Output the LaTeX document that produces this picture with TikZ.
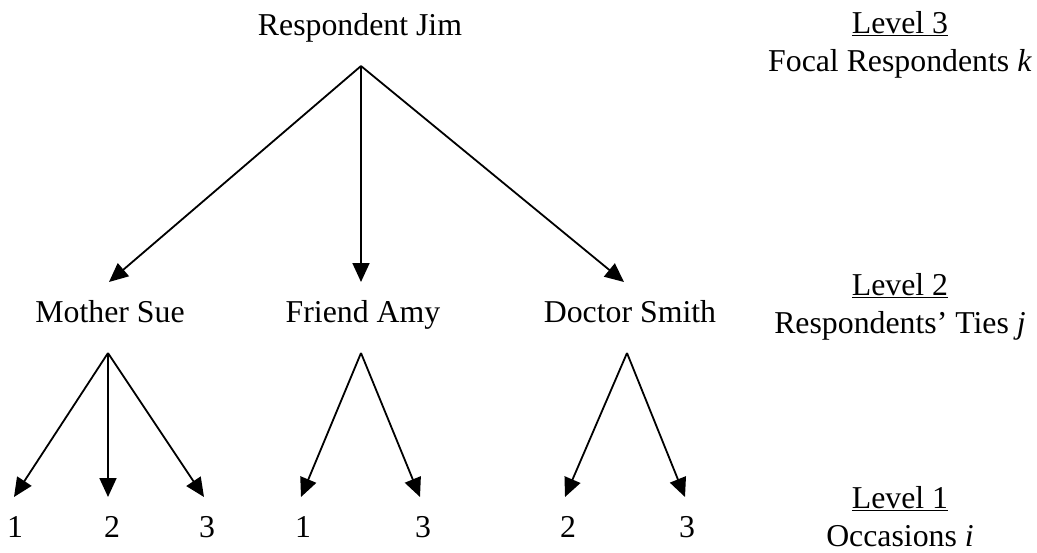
\documentclass[tikz,border=0pt]{standalone}
\usepackage{fontspec}
\setmainfont{Liberation Serif}
\usetikzlibrary{arrows.meta}
\begin{document}
\begin{tikzpicture}[x=1pt,y=-1pt,
  lbl/.style={inner sep=0pt,anchor=base,font=\fontsize{31.8}{38}\selectfont},
  conn/.style={line width=1.8pt,-{Triangle[length=19pt,width=17pt]}}]
\useasboundingbox (0,0) rectangle (1037,552);
% labels
\node[lbl] (jim) at (360,35) {Respondent Jim};
\node[lbl] (sue) at (110,322) {Mother Sue};
\node[lbl] (amy) at (363,322) {Friend Amy};
\node[lbl] (smith) at (630,322) {Doctor Smith};
\node[lbl] (s1) at (15,537) {1};
\node[lbl] (s2) at (112,537) {2};
\node[lbl] (s3) at (207,537) {3};
\node[lbl] (a1) at (303,537) {1};
\node[lbl] (a3) at (423,537) {3};
\node[lbl] (d2) at (568,537) {2};
\node[lbl] (d3) at (687,537) {3};
\node[lbl] (l3) at (900,33) {\underline{Level 3}};
\node[lbl] (l3b) at (900,71) {Focal Respondents \textit{k}};
\node[lbl] (l2) at (900,295) {\underline{Level 2}};
\node[lbl] (l2b) at (900,333) {Respondents’ Ties \textit{j}};
\node[lbl] (l1) at (900,508) {\underline{Level 1}};
\node[lbl] (l1b) at (900,546) {Occasions \textit{i}};
% apex and tip points
\coordinate (jimA) at (361,66);
\coordinate (sueT) at (109,282);
\coordinate (amyT) at (361,282);
\coordinate (smithT) at (624,282);
\coordinate (sueA) at (108,353);
\coordinate (amyA) at (361,353);
\coordinate (smithA) at (627,353);
\coordinate (s1T) at (14,497);
\coordinate (s2T) at (108,497);
\coordinate (s3T) at (204,497);
\coordinate (a1T) at (301,497);
\coordinate (a3T) at (420,497);
\coordinate (d2T) at (565,497);
\coordinate (d3T) at (685,497);
% connectors
\draw[conn] (jimA) -- (sueT);
\draw[conn] (jimA) -- (amyT);
\draw[conn] (jimA) -- (smithT);
\draw[conn] (sueA) -- (s1T);
\draw[conn] (sueA) -- (s2T);
\draw[conn] (sueA) -- (s3T);
\draw[conn] (amyA) -- (a1T);
\draw[conn] (amyA) -- (a3T);
\draw[conn] (smithA) -- (d2T);
\draw[conn] (smithA) -- (d3T);
\end{tikzpicture}
\end{document}
